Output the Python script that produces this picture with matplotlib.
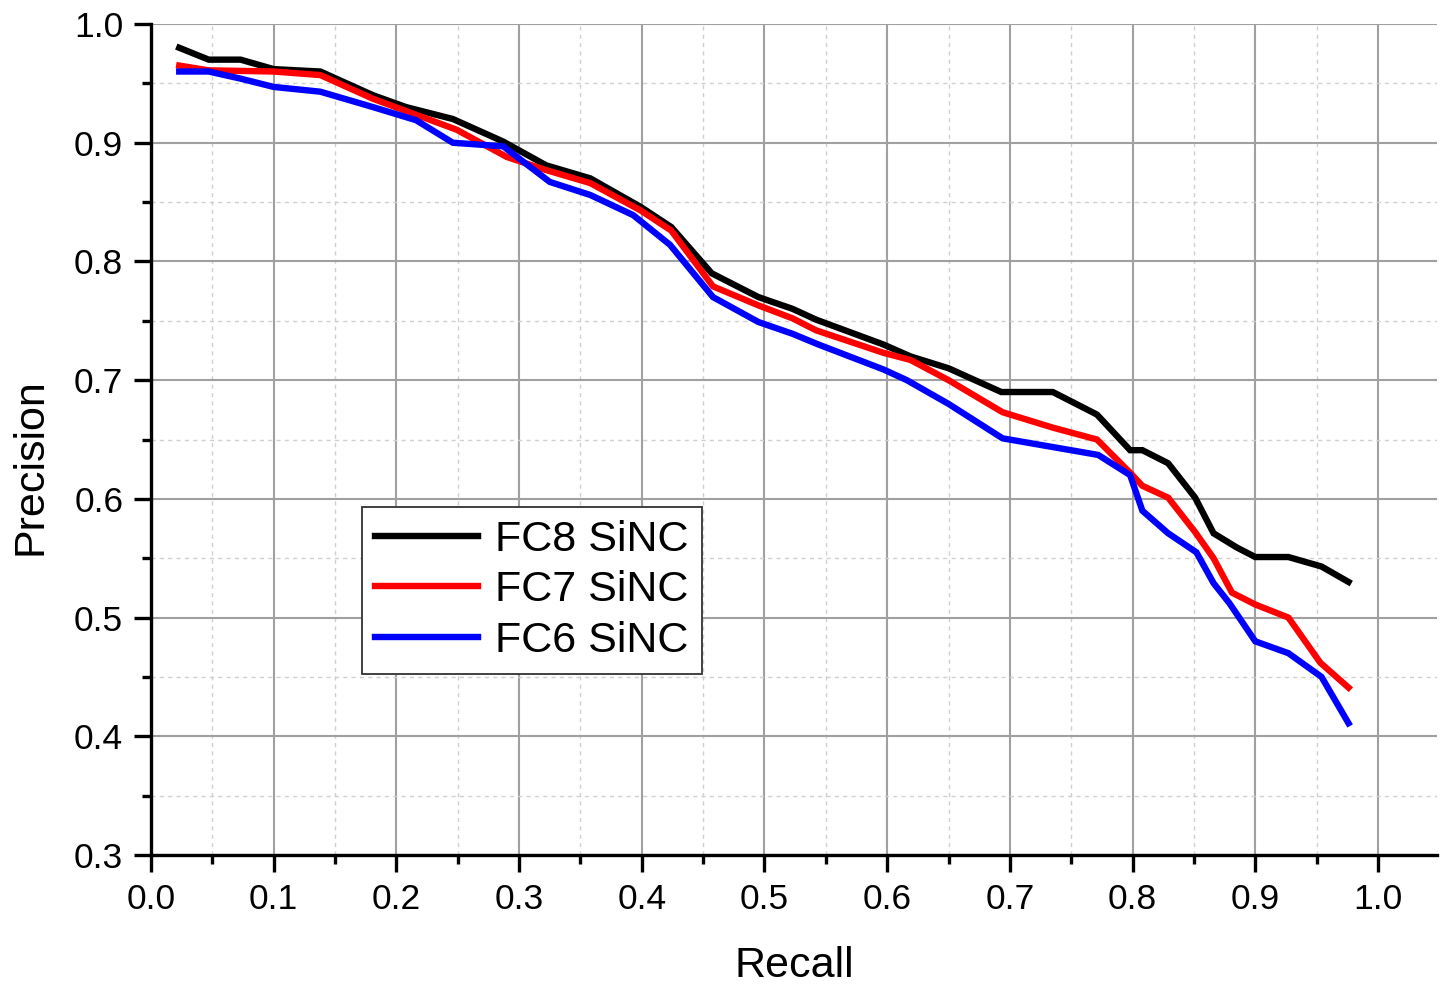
import matplotlib
matplotlib.use("Agg")
import matplotlib.pyplot as plt
from matplotlib.ticker import MultipleLocator

plt.rcParams['font.family'] = ['Liberation Sans', 'DejaVu Sans']

fc8_recall = [0.023, 0.047, 0.073, 0.100, 0.138, 0.181, 0.208, 0.246, 0.287, 0.322, 0.358,
              0.399, 0.424, 0.457, 0.495, 0.523, 0.542, 0.597, 0.619, 0.650, 0.693, 0.735,
              0.771, 0.798, 0.808, 0.829, 0.851, 0.866, 0.885, 0.900, 0.927, 0.954, 0.976]
fc8_precision = [0.980, 0.970, 0.970, 0.962, 0.960, 0.940, 0.930, 0.920, 0.901, 0.881, 0.870,
                 0.846, 0.829, 0.790, 0.770, 0.760, 0.751, 0.730, 0.720, 0.710, 0.690, 0.690,
                 0.671, 0.641, 0.641, 0.630, 0.601, 0.571, 0.559, 0.551, 0.551, 0.543, 0.530]

fc7_recall = [0.023, 0.047, 0.100, 0.138, 0.181, 0.249, 0.290, 0.322, 0.358, 0.399, 0.424,
              0.458, 0.495, 0.523, 0.542, 0.597, 0.619, 0.650, 0.694, 0.735, 0.771, 0.798,
              0.808, 0.829, 0.851, 0.866, 0.881, 0.900, 0.927, 0.953, 0.976]
fc7_precision = [0.965, 0.961, 0.960, 0.957, 0.937, 0.911, 0.888, 0.877, 0.866, 0.843, 0.826,
                 0.779, 0.763, 0.752, 0.742, 0.723, 0.717, 0.700, 0.673, 0.660, 0.650, 0.622,
                 0.611, 0.601, 0.572, 0.550, 0.521, 0.511, 0.500, 0.462, 0.441]

fc6_recall = [0.023, 0.047, 0.073, 0.100, 0.138, 0.181, 0.216, 0.246, 0.287, 0.325, 0.358,
              0.393, 0.423, 0.458, 0.495, 0.523, 0.544, 0.597, 0.616, 0.650, 0.694, 0.772,
              0.798, 0.808, 0.829, 0.852, 0.866, 0.879, 0.900, 0.927, 0.954, 0.976]
fc6_precision = [0.960, 0.960, 0.954, 0.947, 0.943, 0.930, 0.919, 0.900, 0.897, 0.867, 0.856,
                 0.839, 0.814, 0.770, 0.749, 0.739, 0.730, 0.709, 0.700, 0.680, 0.651, 0.637,
                 0.620, 0.590, 0.571, 0.555, 0.529, 0.512, 0.480, 0.470, 0.450, 0.411]

series_labels = ["FC8 SiNC", "FC7 SiNC", "FC6 SiNC"]
series_colors = ["#000000", "#ff0000", "#0000ff"]

fig = plt.figure(figsize=(14.48, 9.85), dpi=100)
ax = fig.add_axes([0.1043, 0.132, 0.888, 0.8436])

for xs, ys, lab, col in zip([fc8_recall, fc7_recall, fc6_recall],
                            [fc8_precision, fc7_precision, fc6_precision],
                            series_labels, series_colors):
    ax.plot(xs, ys, color=col, lw=4.6, label=lab, solid_joinstyle='miter', zorder=3)

ax.set_xlim(0.0, 1.048)
ax.set_ylim(0.3, 1.0)
ax.xaxis.set_minor_locator(MultipleLocator(0.05))
ax.yaxis.set_major_locator(MultipleLocator(0.1))
ax.yaxis.set_minor_locator(MultipleLocator(0.05))
ax.set_xticks([0.0, 0.1, 0.2, 0.3, 0.4, 0.5, 0.6, 0.7, 0.8, 0.9, 1.0])
ax.set_xticklabels(["0.0", "0.1", "0.2", "0.3", "0.4", "0.5", "0.6", "0.7", "0.8", "0.9", "1.0"])

ax.grid(which='major', color='#a0a0a0', lw=1.5, ls='-', zorder=0)
ax.grid(which='minor', color='#d0d0d0', lw=1.0, ls=(0, (3, 3)), zorder=0)

for s in ['top', 'right']:
    ax.spines[s].set_visible(False)
for s in ['left', 'bottom']:
    ax.spines[s].set_linewidth(2.4)

ax.tick_params(which='major', direction='out', length=12, width=2.4, labelsize=25.5, pad=8)
ax.tick_params(which='minor', direction='out', length=6.5, width=2.4)

ax.set_xlabel("Recall", fontsize=31, labelpad=22)
ax.set_ylabel("Precision", fontsize=31)
ax.yaxis.set_label_coords(-0.078, 0.467)

leg = ax.legend(loc='upper left', bbox_to_anchor=(0.164, 0.419), fontsize=31,
                frameon=True, fancybox=False, handlelength=2.4, handletextpad=0.4,
                labelspacing=0.25, borderpad=0.3, borderaxespad=0)
leg.get_frame().set_edgecolor('#333333')
leg.get_frame().set_linewidth(1.3)
leg.get_frame().set_alpha(1.0)

fig.savefig("out.png", dpi=100)
